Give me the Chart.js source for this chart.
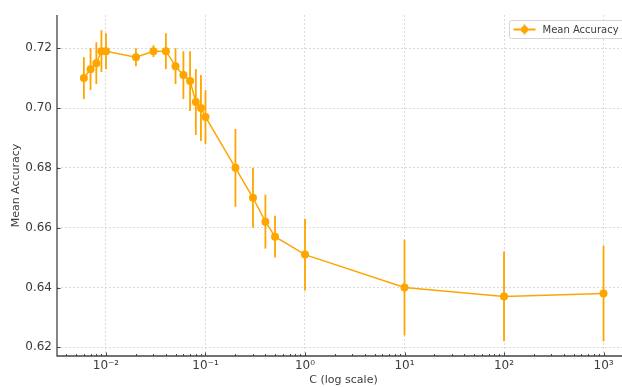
<!DOCTYPE html>
<html lang="en">
<head>
    <meta charset="UTF-8">
    <script src="https://cdn.jsdelivr.net/npm/chart.js@4.4.6/dist/chart.umd.min.js"></script>
    <title>Mean accuracy vs C</title>
    <style>
        html, body { margin: 0; padding: 0; overflow: hidden; background: #fff; }
        #wrap { width: 634px; height: 387px; }
    </style>
</head>
<body>
    <div id="wrap"><canvas id="acc-chart" width="634" height="387"></canvas></div>

    <script>
        // values
        const cValues = [0.006, 0.007, 0.008, 0.009, 0.01, 0.02, 0.03, 0.04, 0.05, 0.06, 0.07, 0.08, 0.09, 0.1, 0.2, 0.3, 0.4, 0.5, 1, 10, 100, 1000]
        const meanAcc = [0.710, 0.713, 0.715, 0.719, 0.719, 0.717, 0.719, 0.719, 0.714, 0.711, 0.709, 0.702, 0.700, 0.697, 0.680, 0.670, 0.662, 0.657, 0.651, 0.640, 0.637, 0.638]
        const stdAcc = [0.007, 0.007, 0.007, 0.007, 0.006, 0.003, 0.002, 0.006, 0.006, 0.008, 0.010, 0.011, 0.011, 0.009, 0.013, 0.010, 0.009, 0.007, 0.012, 0.016, 0.015, 0.016]

        const xTickVals = [0.01, 0.1, 1, 10, 100, 1000]
        const xTickLabels = ['10⁻²', '10⁻¹', '10⁰', '10¹', '10²', '10³']
        const yTickVals = [0.62, 0.64, 0.66, 0.68, 0.70, 0.72]
        const yTickLabels = ['0.62', '0.64', '0.66', '0.68', '0.70', '0.72']

        const orange = '#ffa500'
        const textColor = '#3c3c3c'
        const spineColor = '#444'
        const font = 'DejaVu Sans'

        // vertical error bars, drawn under the line and markers
        const errorBars = {
            id: 'errorBars',
            beforeDatasetsDraw(chart) {
                const { ctx, scales: { x, y } } = chart
                ctx.save()
                ctx.strokeStyle = orange
                ctx.lineWidth = 1.8
                cValues.forEach((c, i) => {
                    const px = x.getPixelForValue(c)
                    ctx.beginPath()
                    ctx.moveTo(px, y.getPixelForValue(meanAcc[i] - stdAcc[i]))
                    ctx.lineTo(px, y.getPixelForValue(meanAcc[i] + stdAcc[i]))
                    ctx.stroke()
                })
                ctx.restore()
            }
        }

        // left/bottom spines, inward ticks and the legend box
        const frame = {
            id: 'frame',
            afterDraw(chart) {
                const { ctx, chartArea: a, scales: { x, y } } = chart
                ctx.save()
                ctx.strokeStyle = spineColor
                ctx.lineWidth = 1.3
                ctx.beginPath()
                ctx.moveTo(a.left, a.top)
                ctx.lineTo(a.left, a.bottom)
                ctx.lineTo(a.right, a.bottom)
                ctx.stroke()

                ctx.lineWidth = 1
                ctx.beginPath()
                for (let d = -3; d <= 3; d++) {
                    for (let k = 1; k <= 9; k++) {
                        const v = k * Math.pow(10, d)
                        if (v < x.min || v > x.max) continue
                        const px = Math.round(x.getPixelForValue(v)) + 0.5
                        ctx.moveTo(px, a.bottom)
                        ctx.lineTo(px, a.bottom - (k == 1 ? 3.5 : 2))
                    }
                }
                yTickVals.forEach(v => {
                    const py = Math.round(y.getPixelForValue(v)) + 0.5
                    ctx.moveTo(a.left, py)
                    ctx.lineTo(a.left + 3.5, py)
                })
                ctx.stroke()

                // legend
                const lx = 509.5, ly = 20.5
                ctx.fillStyle = 'rgba(255,255,255,0.85)'
                ctx.strokeStyle = '#d4d4d4'
                ctx.lineWidth = 1
                ctx.beginPath()
                ctx.roundRect(lx, ly, 116, 18, 2)
                ctx.fill()
                ctx.stroke()

                ctx.strokeStyle = orange
                ctx.lineWidth = 1.8
                ctx.beginPath()
                ctx.moveTo(lx + 4, ly + 9)
                ctx.lineTo(lx + 26, ly + 9)
                ctx.moveTo(lx + 15, ly + 4)
                ctx.lineTo(lx + 15, ly + 14)
                ctx.stroke()
                ctx.fillStyle = orange
                ctx.beginPath()
                ctx.arc(lx + 15, ly + 9, 3.5, 0, Math.PI * 2)
                ctx.fill()

                ctx.fillStyle = textColor
                ctx.font = '10px "' + font + '"'
                ctx.textBaseline = 'middle'
                ctx.fillText('Mean Accuracy', lx + 33, ly + 9.5)
                ctx.restore()
            }
        }

        const ctx = document.getElementById('acc-chart').getContext('2d')

        new Chart(ctx, {
            type: 'scatter',
            data: {
                datasets: [{
                    label: 'Mean Accuracy',
                    data: cValues.map((c, i) => ({ x: c, y: meanAcc[i] })),
                    showLine: true,
                    borderColor: orange,
                    borderWidth: 1.5,
                    pointRadius: 4,
                    pointBackgroundColor: orange,
                    pointBorderWidth: 0,
                    pointHoverRadius: 4
                }]
            },
            options: {
                responsive: false,
                animation: false,
                layout: { padding: { left: 0, top: 15, right: 1, bottom: 0 } },
                scales: {
                    x: {
                        type: 'logarithmic',
                        min: 0.00322,
                        max: 1845,
                        afterBuildTicks: s => { s.ticks = xTickVals.map(v => ({ value: v })) },
                        afterFit: s => { s.height = 31 },
                        ticks: {
                            autoSkip: false,
                            maxRotation: 0,
                            padding: 3,
                            color: textColor,
                            font: { family: font, size: 12 },
                            callback: (v, i) => xTickLabels[i]
                        },
                        grid: { color: '#d2d2d2', lineWidth: 0.8, drawTicks: false },
                        border: { display: false, dash: [2, 2] },
                        title: {
                            display: true,
                            text: 'C (log scale)',
                            color: textColor,
                            font: { family: font, size: 11 },
                            padding: { top: 0, bottom: 0 }
                        }
                    },
                    y: {
                        min: 0.6171,
                        max: 0.7311,
                        afterBuildTicks: s => { s.ticks = yTickVals.map(v => ({ value: v })) },
                        afterFit: s => { s.width = 57 },
                        ticks: {
                            padding: 5,
                            color: textColor,
                            font: { family: font, size: 12 },
                            callback: (v, i) => yTickLabels[i]
                        },
                        grid: { color: '#d2d2d2', lineWidth: 0.8, drawTicks: false },
                        border: { display: false, dash: [2, 2] },
                        title: {
                            display: true,
                            text: 'Mean Accuracy',
                            color: textColor,
                            font: { family: font, size: 11 },
                            padding: { top: 10, bottom: 0 }
                        }
                    }
                },
                plugins: {
                    legend: { display: false },
                    tooltip: { enabled: false }
                }
            },
            plugins: [errorBars, frame]
        })
    </script>
</body>
</html>
